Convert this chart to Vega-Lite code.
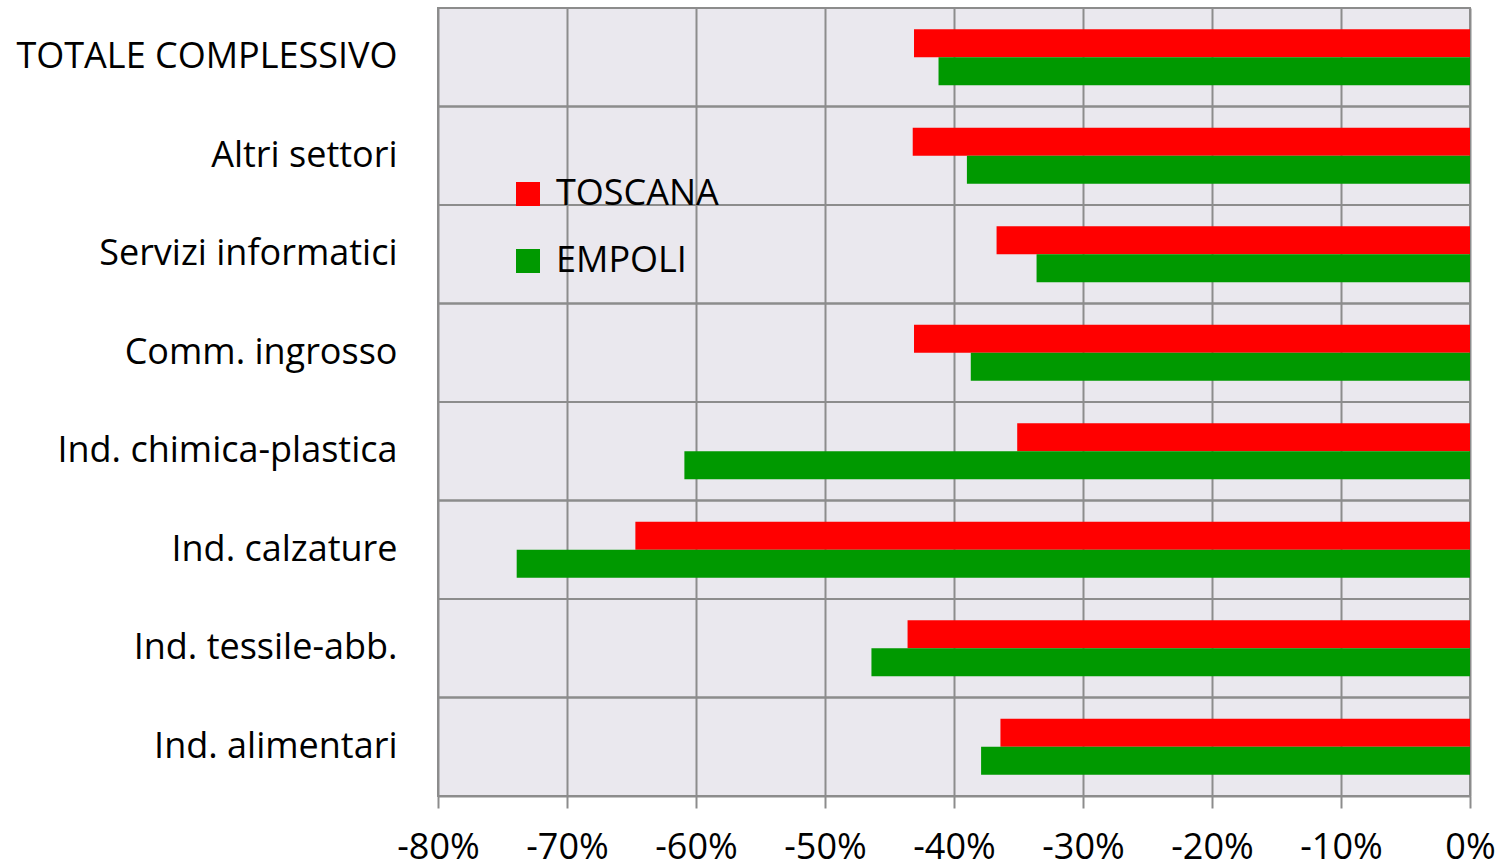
{
  "$schema": "https://vega.github.io/schema/vega-lite/v6.json",
  "width": 1032,
  "height": 788,
  "autosize": {"type": "none"},
  "padding": {"left": 438, "top": 8, "right": 32, "bottom": 72},
  "background": "#ffffff",
  "config": {
    "view": {"fill": "#EAE8EE", "stroke": "#8C8C8C", "strokeWidth": 2},
    "font": "Open Sans"
  },
  "data": {
    "values": [
      {"cat": "TOTALE COMPLESSIVO", "serie": "TOSCANA", "val": -0.431},
      {"cat": "TOTALE COMPLESSIVO", "serie": "EMPOLI", "val": -0.412},
      {"cat": "Altri settori", "serie": "TOSCANA", "val": -0.432},
      {"cat": "Altri settori", "serie": "EMPOLI", "val": -0.390},
      {"cat": "Servizi informatici", "serie": "TOSCANA", "val": -0.367},
      {"cat": "Servizi informatici", "serie": "EMPOLI", "val": -0.336},
      {"cat": "Comm. ingrosso", "serie": "TOSCANA", "val": -0.431},
      {"cat": "Comm. ingrosso", "serie": "EMPOLI", "val": -0.387},
      {"cat": "Ind. chimica-plastica", "serie": "TOSCANA", "val": -0.351},
      {"cat": "Ind. chimica-plastica", "serie": "EMPOLI", "val": -0.609},
      {"cat": "Ind. calzature", "serie": "TOSCANA", "val": -0.647},
      {"cat": "Ind. calzature", "serie": "EMPOLI", "val": -0.739},
      {"cat": "Ind. tessile-abb.", "serie": "TOSCANA", "val": -0.436},
      {"cat": "Ind. tessile-abb.", "serie": "EMPOLI", "val": -0.464},
      {"cat": "Ind. alimentari", "serie": "TOSCANA", "val": -0.364},
      {"cat": "Ind. alimentari", "serie": "EMPOLI", "val": -0.379}
    ]
  },
  "layer": [
    {
      "mark": {"type": "rule", "color": "#8C8C8C", "strokeWidth": 2},
      "encoding": {
        "y": {"field": "cat", "type": "nominal", "bandPosition": 0, "sort": null}
      }
    },
    {
      "mark": {"type": "bar"},
      "encoding": {
        "y": {
          "field": "cat",
          "type": "nominal",
          "sort": null,
          "scale": {"paddingInner": 0, "paddingOuter": 0},
          "axis": {
            "title": null,
            "domain": false,
            "ticks": false,
            "grid": false,
            "labelFont": "Open Sans",
            "labelFontSize": 36,
            "labelColor": "#000000",
            "labelPadding": 41,
            "labelLimit": 500
          }
        },
        "yOffset": {
          "field": "serie",
          "type": "nominal",
          "sort": ["TOSCANA", "EMPOLI"],
          "scale": {"paddingInner": 0, "paddingOuter": 0.76}
        },
        "x": {
          "field": "val",
          "type": "quantitative",
          "scale": {"domain": [-0.8, 0], "nice": false},
          "axis": {
            "title": null,
            "labelExpr": "replace(format(datum.value, '.0%'), '−', '-')",
            "values": [-0.8, -0.7, -0.6, -0.5, -0.4, -0.3, -0.2, -0.1, 0],
            "grid": true,
            "gridColor": "#8C8C8C",
            "gridWidth": 2,
            "domainColor": "#8C8C8C",
            "domainWidth": 2,
            "tickColor": "#8C8C8C",
            "tickWidth": 2,
            "tickSize": 12,
            "labelFont": "Open Sans",
            "labelFontSize": 36,
            "labelColor": "#000000",
            "labelPadding": 22,
            "labelFlush": false,
            "labelOverlap": false
          }
        },
        "color": {
          "field": "serie",
          "type": "nominal",
          "sort": ["TOSCANA", "EMPOLI"],
          "scale": {"domain": ["TOSCANA", "EMPOLI"], "range": ["#FF0000", "#009900"]},
          "legend": {
            "title": null,
            "orient": "none",
            "legendX": 72,
            "legendY": 168,
            "symbolType": "square",
            "symbolSize": 576,
            "symbolStrokeWidth": 0,
            "symbolOpacity": 1,
            "labelFont": "Open Sans",
            "labelFontSize": 36,
            "labelColor": "#000000",
            "labelOffset": 10,
            "labelLimit": 400,
            "rowPadding": 31
          }
        }
      }
    }
  ]
}
